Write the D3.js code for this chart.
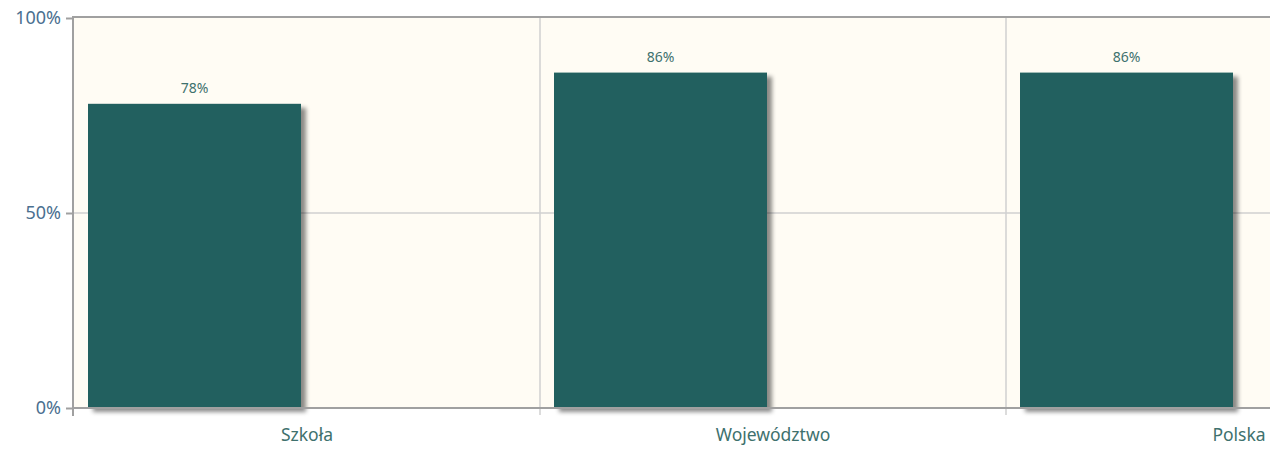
<!DOCTYPE html>
<html>
<head>
<meta charset="utf-8">
<script src="https://cdn.jsdelivr.net/npm/d3@7"></script>
<style>
  body { margin: 0; background: #fff; }
  text { font-family: "Noto Sans", "DejaVu Sans", sans-serif; }
</style>
</head>
<body>
<div id="container"></div>
<script>
/* DATA */
const categories = ["Szkoła", "Województwo", "Polska"];
const values = [78, 86, 86];
const yTicks = [0, 50, 100];

/* CONSTANTS */
const width = 1282, height = 450,
  margin = { top: 18, bottom: 42, left: 74, right: 12 };
const bandWidth = 466;

const svg = d3.select("#container")
  .append("svg")
  .attr("width", width)
  .attr("height", height);

// drop shadow for bars
const defs = svg.append("defs");
const filt = defs.append("filter").attr("id", "shadow")
  .attr("x", "-5%").attr("y", "-5%").attr("width", "120%").attr("height", "120%");
filt.append("feDropShadow")
  .attr("dx", 5).attr("dy", 4).attr("stdDeviation", 2.2)
  .attr("flood-color", "#000").attr("flood-opacity", 0.45);

// SCALES
const xScale = d3.scaleBand()
  .domain(categories)
  .range([margin.left, margin.left + bandWidth * categories.length]);

const yScale = d3.scaleLinear()
  .domain([0, 100])
  .range([height - margin.bottom, margin.top]);

const plotRight = width - margin.right;

// plot background
svg.append("rect")
  .attr("x", margin.left).attr("y", margin.top)
  .attr("width", plotRight - margin.left)
  .attr("height", yScale(0) - margin.top)
  .attr("fill", "#fffcf4");

// GRID
svg.append("g")
  .selectAll("line")
  .data(yTicks.slice(1, -1))
  .join("line")
  .attr("x1", margin.left).attr("x2", plotRight)
  .attr("y1", d => yScale(d)).attr("y2", d => yScale(d))
  .attr("stroke", "#d0d0d0").attr("stroke-width", 1.5);

svg.append("g")
  .selectAll("line")
  .data(categories.slice(1))
  .join("line")
  .attr("x1", d => xScale(d)).attr("x2", d => xScale(d))
  .attr("y1", margin.top).attr("y2", yScale(0) + 7)
  .attr("stroke", "#d0d0d0").attr("stroke-width", 1.5);

// BARS
const barOffset = 14, barW = 213;
svg.append("g")
  .selectAll("rect")
  .data(values)
  .join("rect")
  .attr("x", (d, i) => xScale(categories[i]) + barOffset)
  .attr("y", d => yScale(d))
  .attr("width", barW)
  .attr("height", d => yScale(0) - yScale(d))
  .attr("fill", "#20615e")
  .attr("filter", "url(#shadow)");

// value labels
svg.append("g")
  .selectAll("text")
  .data(values)
  .join("text")
  .attr("x", (d, i) => xScale(categories[i]) + barOffset + barW / 2)
  .attr("y", d => yScale(d) - 11)
  .attr("text-anchor", "middle")
  .attr("font-size", 14)
  .attr("fill", "#3e716d")
  .text(d => d + "%");

// frame: top line, left axis, bottom axis
svg.append("line")
  .attr("x1", margin.left - 1).attr("x2", plotRight)
  .attr("y1", margin.top - 1).attr("y2", margin.top - 1)
  .attr("stroke", "#a0a0a0").attr("stroke-width", 2);

svg.append("line")
  .attr("x1", margin.left - 1).attr("x2", margin.left - 1)
  .attr("y1", margin.top - 2).attr("y2", yScale(0) + 8)
  .attr("stroke", "#a0a0a0").attr("stroke-width", 2);

svg.append("line")
  .attr("x1", margin.left - 1).attr("x2", plotRight)
  .attr("y1", yScale(0)).attr("y2", yScale(0))
  .attr("stroke", "#a0a0a0").attr("stroke-width", 2);

// Y AXIS
const yAxis = d3.axisLeft(yScale)
  .tickValues(yTicks)
  .tickSize(7)
  .tickPadding(5)
  .tickFormat(d => d + "%");

const yAxisGroup = svg.append("g")
  .attr("transform", `translate(${margin.left - 1},0)`)
  .call(yAxis);
yAxisGroup.select(".domain").remove();
yAxisGroup.selectAll("line").attr("stroke", "#a0a0a0").attr("stroke-width", 2);
yAxisGroup.selectAll("text")
  .attr("font-size", 18)
  .attr("font-family", "Noto Sans")
  .attr("fill", "#4b7090");

// X AXIS labels at band centers
svg.append("g")
  .selectAll("text")
  .data(categories)
  .join("text")
  .attr("x", d => xScale(d) + xScale.bandwidth() / 2)
  .attr("y", yScale(0) + 33)
  .attr("text-anchor", "middle")
  .attr("font-size", 17.5)
  .attr("fill", "#3e716d")
  .text(d => d);
</script>
</body>
</html>
